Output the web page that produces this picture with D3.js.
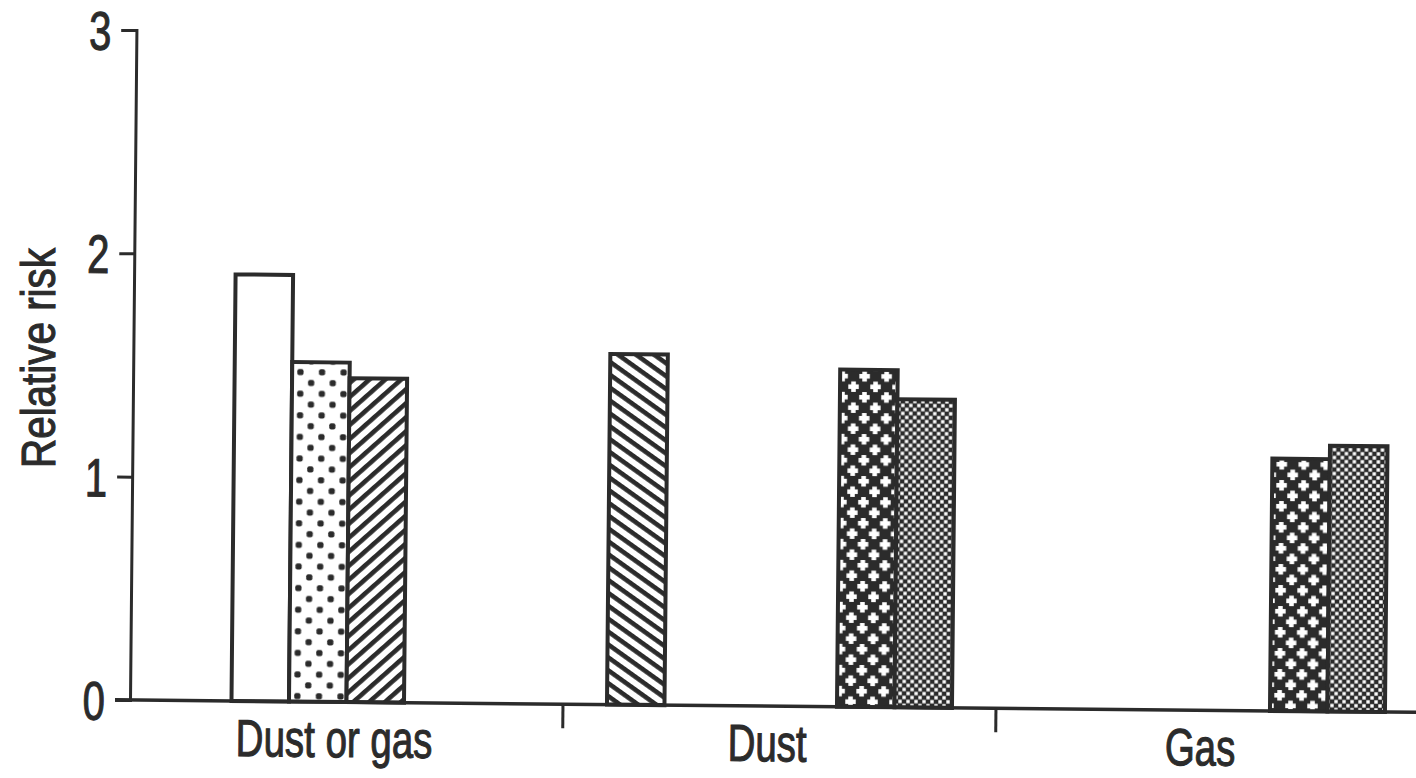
<!DOCTYPE html>
<html>
<head>
<meta charset="utf-8">
<script src="https://cdn.jsdelivr.net/npm/d3@7"></script>
<style>
  html, body { margin: 0; padding: 0; background: #ffffff; }
  svg { display: block; }
  text { font-family: "Liberation Sans", Arial, Helvetica, sans-serif; fill: #2b2b2b; stroke: #2b2b2b; stroke-width: 1.1px; }
</style>
</head>
<body>
<svg id="chart" width="1416" height="778"></svg>
<script>
// Exposure categories along the x axis
const categories = ["Dust or gas", "Dust", "Gas"];

// Six bar series (slot order within each category); null = no bar
const seriesNames = ["Series A", "Series B", "Series C", "Series D", "Series E", "Series F"];
const seriesA = [null, 1.57, null];   // back-hatched
const seriesB = [1.91, null, null];   // open
const seriesC = [1.52, null, null];   // dotted
const seriesD = [1.45, null, null];   // forward-hatched
const seriesE = [null, 1.51, 1.13];   // crosses
const seriesF = [null, 1.38, 1.19];   // fine stipple
const seriesValues = [seriesA, seriesB, seriesC, seriesD, seriesE, seriesF];

// Y axis ticks
const yTicks = [0, 1, 2, 3];
const yTitle = "Relative risk";

const ink = "#2b2b2b";
const svg = d3.select("#chart");

// ---- fill patterns ----
const defs = svg.append("defs");
const fills = ["p-back", "p-open", "p-dots", "p-fwd", "p-cross", "p-stipple"];

function hatch(id, angle) {
  const p = defs.append("pattern").attr("id", id)
    .attr("patternUnits", "userSpaceOnUse")
    .attr("width", 10).attr("height", 10.5)
    .attr("patternTransform", `rotate(${angle})`);
  p.append("rect").attr("width", 10).attr("height", 10.5).attr("fill", "#fff");
  p.append("rect").attr("y", 0).attr("width", 10).attr("height", 4.6).attr("fill", ink);
}
hatch("p-back", 35);
hatch("p-fwd", -42);

defs.append("pattern").attr("id", "p-open")
  .attr("patternUnits", "userSpaceOnUse").attr("width", 10).attr("height", 10)
  .append("rect").attr("width", 10).attr("height", 10).attr("fill", "#fff");

{
  const p = defs.append("pattern").attr("id", "p-dots")
    .attr("patternUnits", "userSpaceOnUse").attr("width", 21.6).attr("height", 21.6);
  p.append("rect").attr("width", 21.6).attr("height", 21.6).attr("fill", "#fff");
  p.append("rect").attr("x", 2.2).attr("y", 2.2).attr("width", 6.2).attr("height", 6.2).attr("rx", 2).attr("fill", ink);
  p.append("rect").attr("x", 13).attr("y", 13).attr("width", 6.2).attr("height", 6.2).attr("rx", 2).attr("fill", ink);
}
{
  // staggered white plus signs on a dark ground
  const tw = 22, th = 21, half = 5.25, arm = 4.6;
  const p = defs.append("pattern").attr("id", "p-cross")
    .attr("patternUnits", "userSpaceOnUse").attr("width", tw).attr("height", th);
  p.append("rect").attr("width", tw).attr("height", th).attr("fill", ink);
  [[5.5, 5.25], [16.5, 15.75]].forEach(([cx, cy]) => {
    p.append("rect").attr("x", cx - half).attr("y", cy - arm / 2).attr("width", 2 * half).attr("height", arm).attr("fill", "#fff");
    p.append("rect").attr("x", cx - arm / 2).attr("y", cy - half).attr("width", arm).attr("height", 2 * half).attr("fill", "#fff");
  });
}
{
  const p = defs.append("pattern").attr("id", "p-stipple")
    .attr("patternUnits", "userSpaceOnUse").attr("width", 8).attr("height", 8);
  p.append("rect").attr("width", 8).attr("height", 8).attr("fill", ink);
  p.append("rect").attr("x", 0.3).attr("y", 0.3).attr("width", 3.4).attr("height", 3.4).attr("fill", "#fff");
  p.append("rect").attr("x", 4.3).attr("y", 4.3).attr("width", 3.4).attr("height", 3.4).attr("fill", "#fff");
}

// ---- plot frame (origin at the axis corner, slightly tilted sheet) ----
const g = svg.append("g").attr("transform", "translate(130,700) rotate(0.55)");

const y = d3.scaleLinear().domain([0, 3]).range([0, -670]);
const x0 = d3.scaleBand().domain(categories).range([0, 1299]);
const x1 = d3.scaleBand().domain(seriesNames).range([0, x0.bandwidth()]).paddingOuter(0.765);

// bars
const bars = [];
seriesValues.forEach((vals, si) => {
  vals.forEach((v, ci) => {
    if (v != null) bars.push({ cat: categories[ci], s: seriesNames[si], v, fill: fills[si] });
  });
});
g.append("g").selectAll("rect").data(bars).join("rect")
  .attr("x", d => x0(d.cat) + x1(d.s))
  .attr("y", d => y(d.v))
  .attr("width", x1.bandwidth())
  .attr("height", d => y(0) - y(d.v))
  .attr("fill", d => `url(#${d.fill})`)
  .attr("stroke", ink)
  .attr("stroke-width", 4)
  .attr("stroke-linejoin", "miter");

// y axis
const yAxis = g.append("g").call(
  d3.axisLeft(y).tickValues(yTicks).tickFormat(d3.format("d")).tickSize(15).tickPadding(12)
);
yAxis.select(".domain").attr("stroke", ink).attr("stroke-width", 3);
yAxis.selectAll(".tick line").attr("stroke", ink).attr("stroke-width", 3);
yAxis.selectAll(".tick text")
  .attr("font-size", 54)
  .attr("font-family", "Liberation Sans, Arial, sans-serif")
  .attr("fill", ink)
  .attr("transform", "scale(0.74,1)")
  .attr("x", -25 / 0.74)
  .attr("dy", "0.36em");

// x axis baseline and category separators
g.append("line")
  .attr("x1", -15).attr("x2", x0.range()[1] + 20)
  .attr("y1", y(0)).attr("y2", y(0))
  .attr("stroke", ink).attr("stroke-width", 3.5);
g.append("g").selectAll("line").data(categories.slice(1)).join("line")
  .attr("x1", d => x0(d)).attr("x2", d => x0(d))
  .attr("y1", y(0)).attr("y2", y(0) + 24)
  .attr("stroke", ink).attr("stroke-width", 3);

// category labels
g.append("g").selectAll("text").data(categories).join("text")
  .attr("transform", d => `translate(${x0(d) + x0.bandwidth() / 2 - 12},${y(0) + 55}) scale(0.74,1)`)
  .attr("text-anchor", "middle")
  .attr("font-size", 52)
  .text(d => d);

// y axis title
svg.append("text")
  .attr("transform", "translate(55,358) rotate(-90)")
  .attr("text-anchor", "middle")
  .attr("font-size", 48)
  .attr("textLength", 220)
  .attr("lengthAdjust", "spacingAndGlyphs")
  .text(yTitle);
</script>
</body>
</html>
